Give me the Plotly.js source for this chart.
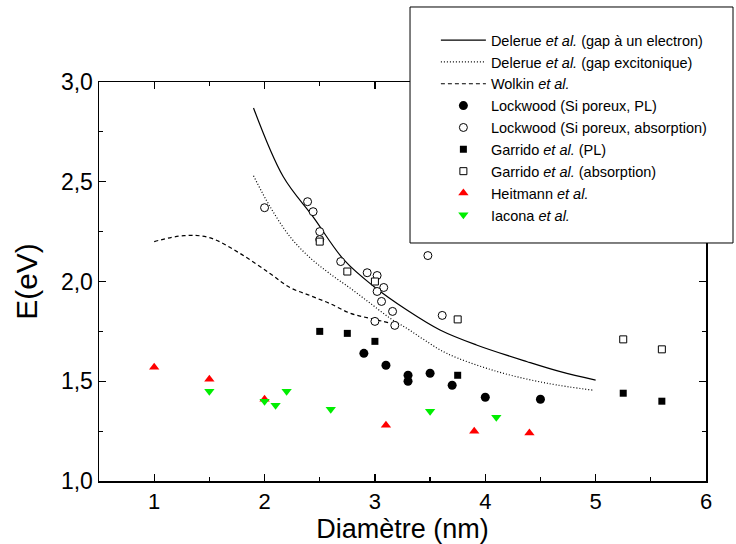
<!DOCTYPE html>
<html>
<head>
<meta charset="utf-8">
<script src="https://cdn.plot.ly/plotly-3.0.1.min.js"></script>
<style>
html, body { margin: 0; padding: 0; background: #fff; }
#chart { width: 736px; height: 544px; }
</style>
</head>
<body>
<div id="chart"></div>
<script>
// Theory curves
const delerueElecX = [1.90, 2.17, 2.44, 2.72, 2.99, 3.29, 3.59, 3.92, 4.38, 4.68, 5.0];
const delerueElecY = [2.87, 2.525, 2.324, 2.108, 1.975, 1.857, 1.757, 1.682, 1.598, 1.548, 1.506];
const delerueExcX = [1.90, 2.05, 2.23, 2.41, 2.59, 2.78, 2.96, 3.14, 3.29, 3.44, 3.65, 4.10, 4.56, 4.98];
const delerueExcY = [2.53, 2.375, 2.225, 2.12, 2.04, 1.965, 1.89, 1.815, 1.765, 1.71, 1.64, 1.55, 1.49, 1.455];
const wolkinX = [1.0, 1.27, 1.5, 1.78, 2.05, 2.23, 2.41, 2.59, 2.78, 2.96, 3.15];
const wolkinY = [2.20, 2.23, 2.22, 2.14, 2.04, 1.97, 1.93, 1.89, 1.84, 1.815, 1.79];

// Experimental data
const lockPLX = [2.9, 3.1, 3.3, 3.3, 3.5, 3.7, 4.0, 4.5];
const lockPLY = [1.64, 1.58, 1.53, 1.50, 1.54, 1.48, 1.42, 1.41];
const lockAbsX = [2.0, 2.39, 2.44, 2.5, 2.5, 2.69, 2.93, 3.02, 3.08, 3.02, 3.06, 3.16, 3.0, 3.18, 3.48, 3.61];
const lockAbsY = [2.37, 2.40, 2.35, 2.25, 2.21, 2.10, 2.044, 2.03, 1.97, 1.95, 1.90, 1.85, 1.80, 1.78, 2.13, 1.83];
const garPLX = [2.5, 2.75, 3.0, 3.75, 5.25, 5.6];
const garPLY = [1.75, 1.74, 1.70, 1.53, 1.44, 1.40];
const garAbsX = [2.5, 2.75, 3.0, 3.75, 5.25, 5.6];
const garAbsY = [2.20, 2.05, 2.0, 1.81, 1.71, 1.66];
const heitX = [1.0, 1.5, 2.0, 3.1, 3.9, 4.4];
const heitY = [1.57, 1.51, 1.41, 1.28, 1.25, 1.24];
const iaconaX = [1.5, 2.0, 2.1, 2.2, 2.6, 3.5, 4.1];
const iaconaY = [1.45, 1.40, 1.38, 1.45, 1.36, 1.35, 1.32];

const names = [
  'Delerue <i>et al.</i> (gap à un electron)',
  'Delerue <i>et al.</i> (gap excitonique)',
  'Wolkin <i>et al.</i>',
  'Lockwood (Si poreux, PL)',
  'Lockwood (Si poreux, absorption)',
  'Garrido <i>et al.</i> (PL)',
  'Garrido <i>et al.</i> (absorption)',
  'Heitmann <i>et al.</i>',
  'Iacona <i>et al.</i>'
];

const FONT = 'Liberation Sans, Arial, sans-serif';

const traces = [
  {x: delerueElecX, y: delerueElecY, mode: 'lines', name: names[0],
   line: {color: '#000', width: 1.2, shape: 'spline'}},
  {x: delerueExcX, y: delerueExcY, mode: 'lines', name: names[1],
   line: {color: '#000', width: 1.2, dash: '1px,2px', shape: 'spline'}},
  {x: wolkinX, y: wolkinY, mode: 'lines', name: names[2],
   line: {color: '#000', width: 1.2, dash: '4px,3px', shape: 'spline'}},
  {x: lockPLX, y: lockPLY, mode: 'markers', name: names[3],
   marker: {symbol: 'circle', size: 9, color: '#000'}},
  {x: lockAbsX, y: lockAbsY, mode: 'markers', name: names[4],
   marker: {symbol: 'circle', size: 8, color: '#fff', line: {color: '#000', width: 1}}},
  {x: garPLX, y: garPLY, mode: 'markers', name: names[5],
   marker: {symbol: 'square', size: 7, color: '#000'}},
  {x: garAbsX, y: garAbsY, mode: 'markers', name: names[6],
   marker: {symbol: 'square', size: 7, color: '#fff', line: {color: '#000', width: 1}}},
  {x: heitX, y: heitY, mode: 'markers', name: names[7],
   marker: {symbol: 'triangle-up', size: 9, color: '#ff0000'}},
  {x: iaconaX, y: iaconaY, mode: 'markers', name: names[8],
   marker: {symbol: 'triangle-down', size: 9, color: '#00ee00'}}
];

const axisCommon = {
  showgrid: false, zeroline: false,
  showline: true, linecolor: '#000', linewidth: 1.5,
  mirror: 'ticks', ticks: 'inside', ticklen: 7, tickwidth: 1.2, tickcolor: '#000',
  tickfont: {family: FONT, size: 23, color: '#000'}
};

const layout = {
  width: 736, height: 544,
  margin: {l: 99, r: 30, t: 82, b: 63},
  paper_bgcolor: '#fff', plot_bgcolor: '#fff',
  separators: ', ',
  font: {family: FONT, color: '#000'},
  showlegend: true,
  xaxis: Object.assign({}, axisCommon, {
    range: [0.5, 6], dtick: 1, tick0: 0,
    tickfont: {family: FONT, size: 22, color: '#000'},
    minor: {dtick: 0.5, ticks: 'inside', ticklen: 4, tickcolor: '#000', tickwidth: 1.2},
    title: {text: 'Diamètre (nm)', font: {family: FONT, size: 27, color: '#000'}, standoff: 8}
  }),
  yaxis: Object.assign({}, axisCommon, {
    range: [1, 3], dtick: 0.5, tick0: 0, tickformat: '.1f',
    minor: {dtick: 0.25, ticks: 'inside', ticklen: 4, tickcolor: '#000', tickwidth: 1.2},
    title: {text: 'E(eV)', font: {family: FONT, size: 30, color: '#000'}, standoff: 14}
  }),
  legend: {
    x: 0.555, y: 1.145, xanchor: 'left', yanchor: 'top',
    bgcolor: 'rgba(0,0,0,0)', borderwidth: 0,
    font: {family: FONT, size: 14.5, color: '#000'},
    itemwidth: 45
  },
  shapes: [{
    type: 'rect', xref: 'paper', yref: 'paper',
    x0: 0.5124, x1: 1.0445, y0: 0.5965, y1: 1.188,
    line: {color: '#000', width: 1}, fillcolor: '#fff', layer: 'above'
  }]
};

Plotly.newPlot('chart', traces, layout, {displayModeBar: false, staticPlot: true});
</script>
</body>
</html>
